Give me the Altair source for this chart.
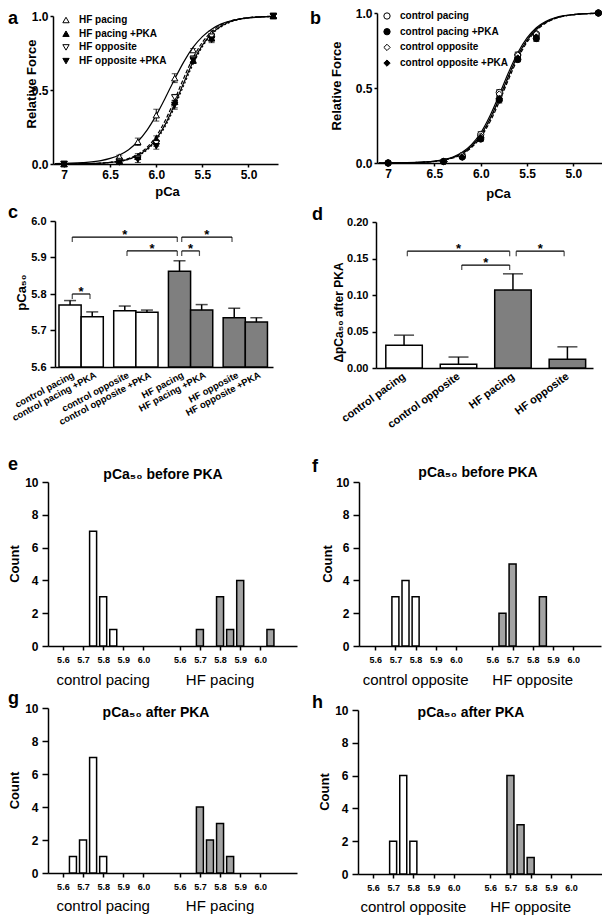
import altair as alt
import pandas as pd

FONT = "Liberation Sans"
BAR_GREY = "#7f7f7f"
HIST_GREY = "#a3a3a3"

# ---------------- panels a / b : force-pCa ----------------
pca_points = [7.0, 6.4, 6.2, 6.0, 5.8, 5.6, 5.4, 4.73]
pca_fit = [7.1, 6.8, 6.6, 6.5, 6.4, 6.3, 6.2, 6.1, 6.0, 5.9, 5.8, 5.7, 5.6,
           5.5, 5.4, 5.3, 5.2, 5.1, 5.0, 4.9, 4.8, 4.73]
pca_ticks = [7.0, 6.5, 6.0, 5.5, 5.0]
force_ticks = [0.0, 0.5, 1.0]

a_series = ["HF pacing", "HF pacing +PKA", "HF opposite", "HF opposite +PKA"]
a_hf_pacing = [0.0, 0.05, 0.15, 0.33, 0.58, 0.77, 0.88, 1.0]
a_hf_pacing_pka = [0.0, 0.02, 0.05, 0.17, 0.42, 0.70, 0.85, 1.0]
a_hf_opp = [0.0, 0.02, 0.04, 0.14, 0.45, 0.71, 0.86, 1.0]
a_hf_opp_pka = [0.0, 0.01, 0.03, 0.12, 0.40, 0.70, 0.84, 1.0]
a_err_hf_pacing = [0.005, 0.01, 0.025, 0.04, 0.03, 0.01, 0.02, 0.01]
a_err_hf_pacing_pka = [0.005, 0.01, 0.02, 0.02, 0.04, 0.02, 0.02, 0.01]
a_err_hf_opp = [0.005, 0.01, 0.01, 0.02, 0.02, 0.02, 0.02, 0.01]
a_err_hf_opp_pka = [0.005, 0.01, 0.02, 0.02, 0.03, 0.02, 0.02, 0.01]
a_fit_hf_pacing = [0.002, 0.009, 0.023, 0.038, 0.061, 0.097, 0.152, 0.229, 0.330, 0.449, 0.575,
                   0.692, 0.789, 0.861, 0.911, 0.945, 0.966, 0.979, 0.987, 0.992, 0.995, 0.996]
a_fit_hf_pacing_pka = [0.000, 0.002, 0.006, 0.012, 0.021, 0.037, 0.066, 0.113, 0.188, 0.297, 0.435,
                       0.583, 0.718, 0.822, 0.894, 0.939, 0.965, 0.981, 0.989, 0.994, 0.997, 0.998]
a_fit_hf_opp = [0.000, 0.002, 0.006, 0.010, 0.018, 0.033, 0.058, 0.101, 0.170, 0.271, 0.404,
                0.552, 0.692, 0.803, 0.881, 0.931, 0.961, 0.978, 0.988, 0.993, 0.996, 0.997]
a_fit_hf_opp_pka = [0.000, 0.002, 0.005, 0.010, 0.017, 0.031, 0.054, 0.095, 0.160, 0.258, 0.387,
                    0.534, 0.676, 0.792, 0.874, 0.926, 0.958, 0.977, 0.987, 0.993, 0.996, 0.997]

b_series = ["control pacing", "control pacing +PKA", "control opposite", "control opposite +PKA"]
b_ctrl_pacing = [0.0, 0.01, 0.05, 0.19, 0.47, 0.72, 0.86, 1.0]
b_ctrl_pacing_pka = [0.0, 0.01, 0.04, 0.16, 0.42, 0.69, 0.83, 1.0]
b_ctrl_opp = [0.0, 0.01, 0.05, 0.18, 0.46, 0.72, 0.86, 1.0]
b_ctrl_opp_pka = [0.0, 0.01, 0.04, 0.17, 0.43, 0.70, 0.84, 1.0]
b_err_ctrl_pacing = [0.003, 0.005, 0.01, 0.02, 0.02, 0.02, 0.01, 0.005]
b_err_ctrl_pacing_pka = [0.003, 0.005, 0.01, 0.015, 0.02, 0.015, 0.02, 0.005]
b_err_ctrl_opp = [0.003, 0.005, 0.01, 0.015, 0.02, 0.015, 0.01, 0.005]
b_err_ctrl_opp_pka = [0.003, 0.005, 0.01, 0.015, 0.015, 0.015, 0.01, 0.005]
b_fit_ctrl_pacing = [0.000, 0.002, 0.007, 0.013, 0.023, 0.040, 0.071, 0.122, 0.201, 0.315, 0.455,
                     0.603, 0.735, 0.834, 0.902, 0.943, 0.968, 0.982, 0.990, 0.995, 0.997, 0.998]
b_fit_ctrl_pacing_pka = [0.000, 0.002, 0.006, 0.010, 0.019, 0.033, 0.059, 0.103, 0.172, 0.275, 0.408,
                         0.557, 0.696, 0.806, 0.883, 0.932, 0.962, 0.979, 0.988, 0.993, 0.996, 0.997]
b_fit_ctrl_opp = [0.000, 0.002, 0.006, 0.011, 0.021, 0.037, 0.065, 0.112, 0.186, 0.295, 0.432,
                  0.580, 0.716, 0.820, 0.893, 0.938, 0.965, 0.981, 0.989, 0.994, 0.997, 0.998]
b_fit_ctrl_opp_pka = [0.000, 0.002, 0.006, 0.011, 0.020, 0.036, 0.063, 0.109, 0.182, 0.290, 0.425,
                      0.574, 0.711, 0.816, 0.890, 0.936, 0.964, 0.980, 0.989, 0.994, 0.997, 0.998]

# ---------------- panel c : pCa50 ----------------
c_names = ["control pacing", "control pacing +PKA", "control opposite", "control opposite +PKA",
           "HF pacing", "HF pacing +PKA", "HF opposite", "HF opposite +PKA"]
c_mean = [5.770, 5.738, 5.754, 5.750, 5.862, 5.756, 5.735, 5.723]
c_sem = [0.012, 0.013, 0.013, 0.006, 0.029, 0.015, 0.026, 0.012]
c_sig_from = ["control pacing", "control opposite", "HF pacing", "HF pacing", "control pacing"]
c_sig_to = ["HF pacing", "HF pacing", "HF pacing +PKA", "HF opposite", "control pacing +PKA"]
c_sig_level = [5.956, 5.918, 5.918, 5.956, 5.800]
c_ticks = [5.6, 5.7, 5.8, 5.9, 6.0]

# ---------------- panel d : delta pCa50 ----------------
d_names = ["control pacing", "control opposite", "HF pacing", "HF opposite"]
d_mean = [0.031, 0.005, 0.107, 0.012]
d_sem = [0.014, 0.010, 0.022, 0.017]
d_sig_from = ["control pacing", "control opposite", "HF pacing"]
d_sig_to = ["HF pacing", "HF pacing", "HF opposite"]
d_sig_level = [0.160, 0.141, 0.160]
d_ticks = [0.00, 0.05, 0.10, 0.15, 0.20]

# ---------------- panels e-h : histograms ----------------
hist_ticks = [5.6, 5.7, 5.8, 5.9, 6.0]
count_ticks = [0, 2, 4, 6, 8, 10]
e_ctrl_pca = [5.75, 5.80, 5.85]
e_ctrl_n = [7, 3, 1]
e_hf_pca = [5.70, 5.80, 5.85, 5.90, 6.05]
e_hf_n = [1, 3, 1, 4, 1]
f_ctrl_pca = [5.70, 5.75, 5.80]
f_ctrl_n = [3, 4, 3]
f_hf_pca = [5.65, 5.70, 5.85]
f_hf_n = [2, 5, 3]
g_ctrl_pca = [5.65, 5.70, 5.75, 5.80]
g_ctrl_n = [1, 2, 7, 1]
g_hf_pca = [5.70, 5.75, 5.80, 5.85]
g_hf_n = [4, 2, 3, 1]
h_ctrl_pca = [5.70, 5.75, 5.80]
h_ctrl_n = [2, 6, 2]
h_hf_pca = [5.70, 5.75, 5.80]
h_hf_n = [6, 3, 1]
HIST_SHIFT = 0.58


def text_layer(txt, x, y, size, weight="bold", align="left", baseline="alphabetic"):
    return alt.Chart(pd.DataFrame({"t": [txt]})).mark_text(
        fontSize=size, fontWeight=weight, align=align, baseline=baseline, color="black"
    ).encode(text="t:N", x=alt.value(x), y=alt.value(y))


def label_chain(centers, names):
    expr = "'" + names[-1] + "'"
    for i in range(len(names) - 2, -1, -1):
        mid = (centers[i] + centers[i + 1]) / 2
        expr = f"datum.value < {mid:.4f} ? '{names[i]}' : ({expr})"
    return expr


def curve_panel(series, pts, errs, fits, shapes, fills, dashes, width, height, xr, yr, xdom,
                yoff, ytitle_xy, xtitle_xy, legend_xy, letter, letter_xy):
    rows = []
    for s, ys, es in zip(series, pts, errs):
        for p, f, e in zip(pca_points, ys, es):
            rows.append(dict(series=s, pca=p, force=f, lo=f - e, hi=f + e))
    pdf = pd.DataFrame(rows)
    frows = []
    for s, ys in zip(series, fits):
        for p, f in zip(pca_fit, ys):
            frows.append(dict(series=s, pca=p, force=f))
    fdf = pd.DataFrame(frows)

    xs = alt.Scale(domain=xdom, range=xr, nice=False, zero=False)
    ysc = alt.Scale(domain=[0, 1], range=yr, nice=False)
    xaxis = alt.Axis(values=pca_ticks, labelExpr="datum.value == 7 ? '7' : format(datum.value, '.1f')",
                     title="pCa", titleX=xtitle_xy[0], titleY=xtitle_xy[1], titleBaseline="middle",
                     titleFontSize=13, labelFontSize=12, tickSize=3, labelPadding=2)
    yaxis = alt.Axis(values=force_ticks, format=".1f", title="Relative Force", offset=yoff,
                     titleX=ytitle_xy[0], titleY=ytitle_xy[1], titleBaseline="middle",
                     titleFontSize=13, labelFontSize=12, tickSize=3, labelPadding=2)
    X = alt.X("pca:Q", scale=xs, axis=xaxis)

    def Y(field):
        return alt.Y(field, scale=ysc, axis=yaxis)

    layers = []
    for s, d in zip(series, dashes):
        kw = dict(color="black", strokeWidth=1.2, interpolate="monotone")
        if d:
            kw["strokeDash"] = d
        layers.append(alt.Chart(fdf).transform_filter(alt.datum.series == s)
                      .mark_line(**kw).encode(x=X, y=Y("force:Q")))
    layers.append(alt.Chart(pdf).mark_rule(color="black", strokeWidth=1)
                  .encode(x=X, y=Y("lo:Q"), y2="hi:Q"))
    for fld in ["lo:Q", "hi:Q"]:
        layers.append(alt.Chart(pdf).mark_tick(orient="horizontal", size=6, thickness=1, color="black")
                      .encode(x=X, y=Y(fld)))
    leg = alt.Legend(title=None, orient="none", legendX=legend_xy[0], legendY=legend_xy[1],
                     labelFontSize=10, labelFontWeight="bold", labelColor="black",
                     symbolSize=40, symbolStrokeWidth=1,
                     rowPadding=3.7, labelOffset=8, labelLimit=300)
    layers.append(alt.Chart(pdf).mark_point(filled=True, color="black", stroke="black",
                                            strokeWidth=1, size=40, opacity=1)
                  .encode(x=X, y=Y("force:Q"),
                          shape=alt.Shape("series:N", scale=alt.Scale(domain=series, range=shapes), legend=leg),
                          fill=alt.Fill("series:N", scale=alt.Scale(domain=series, range=fills), legend=leg),
                          stroke=alt.Stroke("series:N", scale=alt.Scale(domain=series, range=["black"] * len(series)),
                                            legend=leg)))
    layers.append(text_layer(letter, letter_xy[0], letter_xy[1], 18))
    return alt.layer(*layers).properties(width=width, height=height)


def bar_panel(names, means, sems, centers, bar_w, fills, sig_from, sig_to, sig_level, gap_in,
              y_dom, y_ticks, y_fmt, y_title, width, height, xr, yr, xdom, x_off, y_off,
              ytitle_xy, title_size, label_angle, label_size, cap, base_val, letter, letter_xy,
              tick_size, label_pad, label_shift):
    df = pd.DataFrame(dict(name=names, mean=means, sem=sems, pos=centers, fill=fills))
    df["hi"] = df["mean"] + df["sem"]
    df["x0"] = df["pos"] - bar_w / 2
    df["x1"] = df["pos"] + bar_w / 2
    pos_of = dict(zip(names, centers))
    sdf = pd.DataFrame(dict(a=[pos_of[n] + gap_in for n in sig_from],
                            b=[pos_of[n] - gap_in for n in sig_to], level=sig_level))
    sdf["mid"] = (sdf["a"] + sdf["b"]) / 2

    xs = alt.Scale(domain=xdom, range=xr, nice=False, zero=False)
    ysc = alt.Scale(domain=y_dom, range=yr, nice=False, zero=False)
    xaxis = alt.Axis(values=centers, labelExpr=label_chain(centers, names), labelAngle=label_angle,
                     labelAlign="right", labelBaseline="middle", ticks=False, labelPadding=7,
                     labelOffset=label_shift,
                     labelFontSize=label_size, title=None, offset=x_off)
    yaxis = alt.Axis(values=y_ticks, format=y_fmt, title=y_title, offset=y_off,
                     titleX=ytitle_xy[0], titleY=ytitle_xy[1], titleBaseline="middle",
                     titleFontSize=title_size, labelFontSize=11, tickSize=tick_size, labelPadding=label_pad)

    def X(f):
        return alt.X(f, scale=xs, axis=xaxis)

    def Y(f):
        return alt.Y(f, scale=ysc, axis=yaxis)

    layers = []
    for col in [fills[0], fills[-1]]:
        layers.append(alt.Chart(df).transform_filter(alt.datum.fill == col)
                      .mark_bar(fill=col, stroke="black", strokeWidth=1.5)
                      .encode(x=X("x0:Q"), x2="x1:Q", y=Y("mean:Q"), y2=alt.datum(base_val)))
    layers.append(alt.Chart(df).mark_rule(color="black", strokeWidth=1.5)
                  .encode(x=X("pos:Q"), y=Y("mean:Q"), y2="hi:Q"))
    layers.append(alt.Chart(df).mark_tick(orient="horizontal", size=cap, thickness=1.5, color="black")
                  .encode(x=X("pos:Q"), y=Y("hi:Q")))
    layers.append(alt.Chart(sdf).mark_rule(color="black", strokeWidth=1.2)
                  .encode(x=X("a:Q"), x2="b:Q", y=Y("level:Q")))
    for f in ["a:Q", "b:Q"]:
        layers.append(alt.Chart(sdf).mark_tick(orient="vertical", size=5, thickness=1.2,
                                               yOffset=2.5, color="black")
                      .encode(x=X(f), y=Y("level:Q")))
    layers.append(alt.Chart(sdf).mark_text(text="*", fontSize=13, fontWeight="bold", color="black",
                                           baseline="alphabetic", dy=2)
                  .encode(x=X("mid:Q"), y=Y("level:Q")))
    layers.append(text_layer(letter, letter_xy[0], letter_xy[1], 18))
    return alt.layer(*layers).properties(width=width, height=height)


def hist_panel(ctrl_pca, ctrl_n, hf_pca, hf_n, group_names, title, letter, width, height,
               xr, yr, xdom, x_off, y_off, ytitle_xy, title_xy, letter_xy, glabel_y):
    shift = HIST_SHIFT
    rows = [dict(px=p, n=n, grp="ctrl") for p, n in zip(ctrl_pca, ctrl_n)]
    rows += [dict(px=round(p + shift, 4), n=n, grp="hf") for p, n in zip(hf_pca, hf_n)]
    df = pd.DataFrame(rows)
    xs = alt.Scale(domain=xdom, range=xr, nice=False, zero=False)
    ysc = alt.Scale(domain=[0, 10], range=yr, nice=False)
    ticks = hist_ticks + [round(t + shift, 4) for t in hist_ticks]
    xaxis = alt.Axis(values=ticks,
                     labelExpr=f"format(datum.value > 6.1 ? datum.value - {shift} : datum.value, '.1f')",
                     title=None, offset=x_off, tickSize=4, labelFontSize=9, labelPadding=5)
    yaxis = alt.Axis(values=count_ticks, format="d", title="Count", offset=y_off,
                     titleX=ytitle_xy[0], titleY=ytitle_xy[1], titleBaseline="middle",
                     titleFontSize=13, labelFontSize=12, tickSize=6, labelPadding=4)
    X = alt.X("px:Q", scale=xs, axis=xaxis)
    Y = alt.Y("n:Q", scale=ysc, axis=yaxis)
    layers = []
    for grp, col in [("ctrl", "white"), ("hf", HIST_GREY)]:
        layers.append(alt.Chart(df).transform_filter(alt.datum.grp == grp)
                      .mark_bar(orient="vertical", size=7, fill=col, stroke="black", strokeWidth=1.5)
                      .encode(x=X, y=Y))
    centre = sum(hist_ticks) / len(hist_ticks)
    gdf = pd.DataFrame({"name": group_names, "px": [centre, round(centre + shift, 4)]})
    layers.append(alt.Chart(gdf).mark_text(fontSize=15, fontWeight="normal", color="black",
                                           baseline="middle", align="center")
                  .encode(x=X, y=alt.value(glabel_y), text="name:N"))
    layers.append(text_layer(title, title_xy[0], title_xy[1], 14, align="center", baseline="middle"))
    layers.append(text_layer(letter, letter_xy[0], letter_xy[1], 18))
    return alt.layer(*layers).properties(width=width, height=height)


pa = curve_panel(a_series, [a_hf_pacing, a_hf_pacing_pka, a_hf_opp, a_hf_opp_pka],
                 [a_err_hf_pacing, a_err_hf_pacing_pka, a_err_hf_opp, a_err_hf_opp_pka],
                 [a_fit_hf_pacing, a_fit_hf_pacing_pka, a_fit_hf_opp, a_fit_hf_opp_pka],
                 ["triangle-up", "triangle-up", "triangle-down", "triangle-down"],
                 ["white", "black", "white", "black"],
                 [None, [4, 2], None, [2, 2]],
                 230, 151, [5, 230], [151, 3], [7.12, 4.68], -5,
                 (-22, 70.5), (119, 27), (13, 2), "a", (-40, 11))
pb = curve_panel(b_series, [b_ctrl_pacing, b_ctrl_pacing_pka, b_ctrl_opp, b_ctrl_opp_pka],
                 [b_err_ctrl_pacing, b_err_ctrl_pacing_pka, b_err_ctrl_opp, b_err_ctrl_opp_pka],
                 [b_fit_ctrl_pacing, b_fit_ctrl_pacing_pka, b_fit_ctrl_opp, b_fit_ctrl_opp_pka],
                 ["circle", "circle", "diamond", "diamond"],
                 ["white", "black", "white", "black"],
                 [None, [4, 2], None, [2, 2]],
                 245, 150, [19, 245], [150, 0], [7.12, 4.68], -19,
                 (-41, 72.5), (140, 30), (24, -2), "b", (-48, 11))

c_gap = 0.47
c_pos = [(i // 2) * (2 + c_gap) + (i % 2) + 0.5 for i in range(len(c_names))]
c_fill = ["white" if n.startswith("control") else BAR_GREY for n in c_names]
pc = bar_panel(c_names, c_mean, c_sem, c_pos, 1.0, c_fill, c_sig_from, c_sig_to, c_sig_level, 0.1,
               [5.6, 6.0], c_ticks, ".1f", "pCa₅₀", 225, 204, [7, 225], [146, 0], [-0.18, 9.66],
               -58, -7, (-34, 71), 13, -28, 9.5, 12, 5.6, "c", (-40, -3), 5, 4, 3)

d_pos = list(range(len(d_names)))
d_fill = ["white" if n.startswith("control") else BAR_GREY for n in d_names]
pd_ = bar_panel(d_names, d_mean, d_sem, d_pos, 0.67, d_fill, d_sig_from, d_sig_to, d_sig_level, 0.06,
                [0.0, 0.2], d_ticks, ".2f", "ΔpCa₅₀ after PKA", 235, 204, [18, 235], [147, 1],
                [-0.515, 3.47], -57, -18, (-38, 91), 12, -36, 11, 20, 0.0, "d", (-46, -1), 4, 4, 0)

pe = hist_panel(e_ctrl_pca, e_ctrl_n, e_hf_pca, e_hf_n, ["control pacing", "HF pacing"],
                "pCa₅₀ before PKA", "e", 249, 169, [0, 249], [164, 0], [5.551, 6.737], -5, 0,
                (-34, 81.5), (115, -7), (-40, -12), 198)
pf = hist_panel(f_ctrl_pca, f_ctrl_n, f_hf_pca, f_hf_n, ["control opposite", "HF opposite"],
                "pCa₅₀ before PKA", "f", 243, 169, [1, 243], [164, 0], [5.5445, 6.693], -5, -1,
                (-31.5, 81.5), (120, -9), (-46, -10), 198)
pg = hist_panel(g_ctrl_pca, g_ctrl_n, g_hf_pca, g_hf_n, ["control pacing", "HF pacing"],
                "pCa₅₀ after PKA", "g", 249, 165, [0, 249], [165, 0], [5.551, 6.737], 0, 0,
                (-34, 82), (108, 5), (-40, -4), 198)
ph = hist_panel(h_ctrl_pca, h_ctrl_n, h_hf_pca, h_hf_n, ["control opposite", "HF opposite"],
                "pCa₅₀ after PKA", "h", 244, 166, [0, 244], [166, 2], [5.551, 6.708], 0, 0,
                (-34, 83.5), (113, 5), (-46, 0), 199)

chart = alt.concat(pa, pb, pc, pd_, pe, pf, pg, ph, columns=2, bounds="flush",
                   spacing={"row": 57, "column": 61}).resolve_scale(
    shape="independent", fill="independent", stroke="independent"
).properties(
    autosize=alt.AutoSizeParams(type="none"),
    padding={"left": 40, "top": 5, "right": 554, "bottom": 905},
).configure(font=FONT).configure_view(stroke=None).configure_axis(
    grid=False, domainColor="black", domainWidth=1.5, tickColor="black", tickWidth=1.5,
    labelColor="black", titleColor="black", labelFontWeight="bold", titleFontWeight="bold",
    labelFlush=False, labelOverlap=False
)

chart.save("out.html", embed_options={"renderer": "svg", "actions": False})
